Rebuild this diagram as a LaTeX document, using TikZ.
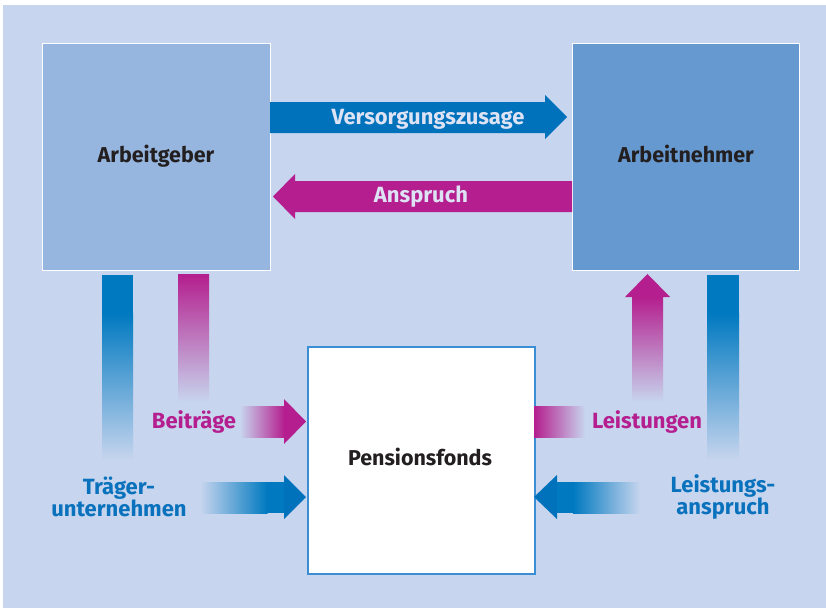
\documentclass[tikz,border=0pt]{standalone}
\usepackage{fontspec}
\setmainfont{Fira Sans}
\definecolor{bg}{HTML}{C7D5EE}
\definecolor{agfill}{HTML}{96B6DF}
\definecolor{anfill}{HTML}{6699D0}
\definecolor{arrblue}{HTML}{0072BC}
\definecolor{barblue}{HTML}{0079C0}
\definecolor{mag}{HTML}{B41E8E}
\definecolor{lbl}{HTML}{DDE3F4}
\definecolor{txt}{HTML}{231F20}
\definecolor{pfborder}{HTML}{3B8ED4}
\definecolor{lblblue}{HTML}{0A72BC}
\begin{document}
\begin{tikzpicture}[x=1pt,y=-1pt,
  box/.style={anchor=north west,inner sep=0pt,font=\fontsize{21}{24}\selectfont\bfseries,text=txt},
  boxtext/.style={inner sep=0pt,font=\fontsize{21.5}{24}\selectfont\bfseries,text=txt,text height=15pt,text depth=5pt},
  arrlabel/.style={inner sep=0pt,font=\fontsize{22}{24}\selectfont\bfseries,text=lbl,text height=15pt,text depth=5pt},
  maglabel/.style={inner sep=0pt,font=\fontsize{22}{24}\selectfont\bfseries,text=mag,text height=15pt,text depth=5pt},
  bluelabel/.style={inner sep=0pt,font=\fontsize{22}{21}\selectfont\bfseries,text=lblblue,align=center}]
\useasboundingbox (0,0) rectangle (826,608);
\fill[white] (0,0) rectangle (826,608);
\fill[bg] (3,5) rectangle (826,608);

% boxes
\node[box,fill=agfill,draw=white,line width=1.2pt,minimum width=228pt,minimum height=227pt] (ag) at (42,43) {};
\node[boxtext] (agt) at (156,157) {Arbeitgeber};
\node[box,fill=anfill,draw=white,line width=1.2pt,minimum width=227pt,minimum height=227pt] (an) at (572,43) {};
\node[boxtext] (ant) at (686,157) {Arbeitnehmer};
\node[box,fill=white,draw=pfborder,line width=1.5pt,minimum width=227pt,minimum height=227pt] (pf) at (307,346) {};
\node[boxtext] (pft) at (420,460) {Pensionsfonds};

% Versorgungszusage
\fill[arrblue] (270,102) -- (545,102) -- (545,95) -- (567,117) -- (545,139) -- (545,133) -- (270,133) -- cycle;
\node[arrlabel] (vz) at (428,119) {Versorgungszusage};
% Anspruch
\fill[mag] (572,181) -- (295,181) -- (295,174) -- (273,196.5) -- (295,219) -- (295,212) -- (572,212) -- cycle;
\node[arrlabel] (ans) at (421,197) {Anspruch};

% left bars
\fill[barblue] (102,275) rectangle (133,313.5);
\shade[top color=barblue,bottom color=bg] (102,313) rectangle (133,460);
\shade[top color=mag,bottom color=bg] (178,274) rectangle (209,402);

% Beitraege arrow
\shade[left color=bg,right color=mag] (240,406) rectangle (284.5,437);
\fill[mag] (284,399) -- (306,421.5) -- (284,444) -- cycle;
\node[maglabel] (bt) at (194,423) {Beiträge};

% Traeger arrow
\shade[left color=bg,right color=barblue] (200,482) rectangle (267.5,513);
\fill[barblue] (267,482) rectangle (284.5,513);
\fill[arrblue] (284,475) -- (306,497) -- (284,519) -- cycle;
\node[bluelabel] (tu) at (119,497) {Träger-\\unternehmen};

% right side
\fill[mag] (625,297) -- (647.5,274) -- (670,297) -- cycle;
\shade[top color=mag,bottom color=bg] (632,296.5) rectangle (663,402);
\fill[barblue] (707,275) rectangle (739,313.5);
\shade[top color=barblue,bottom color=bg] (707,313) rectangle (739,460);

\shade[left color=mag,right color=bg] (534,406) rectangle (585,437);
\node[maglabel] (lg) at (647,423) {Leistungen};

\fill[arrblue] (557,475) -- (534,497) -- (557,519) -- cycle;
\fill[barblue] (556.5,482) rectangle (573.5,513);
\shade[left color=barblue,right color=bg] (573,482) rectangle (640,513);
\node[bluelabel] (la) at (723,497) {Leistungs-\\anspruch};
\end{tikzpicture}
\end{document}
